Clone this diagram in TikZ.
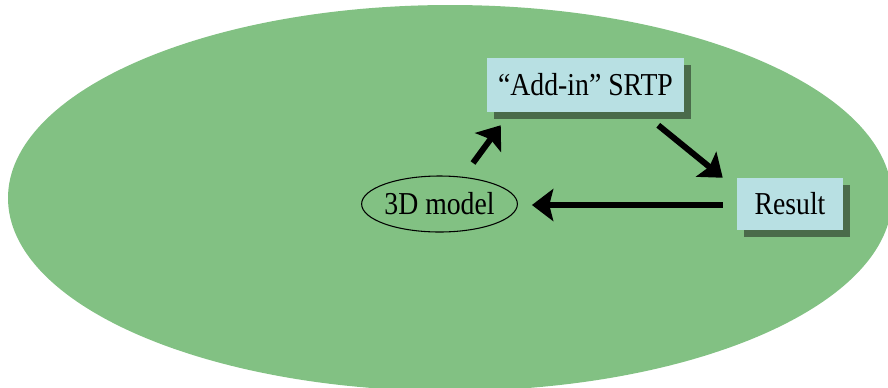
\documentclass[tikz,border=0pt]{standalone}
\usepackage{fontspec}
\usepackage{graphicx}
\setmainfont{Liberation Serif}
\usetikzlibrary{arrows.meta,shadows,calc,shapes.geometric}
\definecolor{fieldgreen}{RGB}{130,193,131}
\definecolor{boxblue}{RGB}{184,224,227}
\definecolor{shadowgreen}{RGB}{74,107,74}
% labels are set slightly narrow and tall
\newcommand{\tallabel}[1]{\scalebox{1}[1.15]{#1}}
\tikzset{
  box/.style={fill=boxblue, draw=none, inner sep=0pt,
    font=\fontsize{20.8}{25}\selectfont,
    drop shadow={shadow xshift=5.5pt, shadow yshift=-5.5pt, opacity=1, fill=shadowgreen}},
  oval/.style={ellipse, draw=black, line width=0.8pt, inner sep=0pt,
    font=\fontsize{20.8}{25}\selectfont},
  flow/.style={line width=4.5pt, -{Stealth[length=16pt, width=24pt, inset=3pt]}}
}
\begin{document}
\begin{tikzpicture}[x=0.75pt, y=-0.75pt]
  \useasboundingbox (0,0) rectangle (888,387);
  \clip (0,0) rectangle (888,387);
  % background field
  \fill[fieldgreen] (450,198) ellipse (442 and 193);
  % nodes
  \node[box, minimum width=147.75pt, minimum height=40.5pt] (srtp) at (585.5,85) {\tallabel{“Add-in” SRTP}};
  \node[box, minimum width=79.5pt, minimum height=39pt] (res) at (790,204) {\tallabel{Result}};
  \node[oval, minimum width=110pt, minimum height=42pt] (model) at (439.5,204) {\tallabel{3D model}};
  % arrow end points
  \coordinate (m1) at ([shift={(33.5,-41)}]model.center);
  \coordinate (s1) at ([shift={(14,13)}]srtp.south west);
  \coordinate (s2) at ([shift={(-26,13)}]srtp.south east);
  \coordinate (r1) at ([shift={(-14,0)}]res.north west);
  \coordinate (r2) at ([shift={(-14,1)}]res.west);
  \coordinate (m2) at ([shift={(14,1)}]model.east);
  % connectors
  \draw[flow] (m1) -- (s1);
  \draw[flow] (s2) -- (r1);
  \draw[flow] (r2) -- (m2);
\end{tikzpicture}
\end{document}
